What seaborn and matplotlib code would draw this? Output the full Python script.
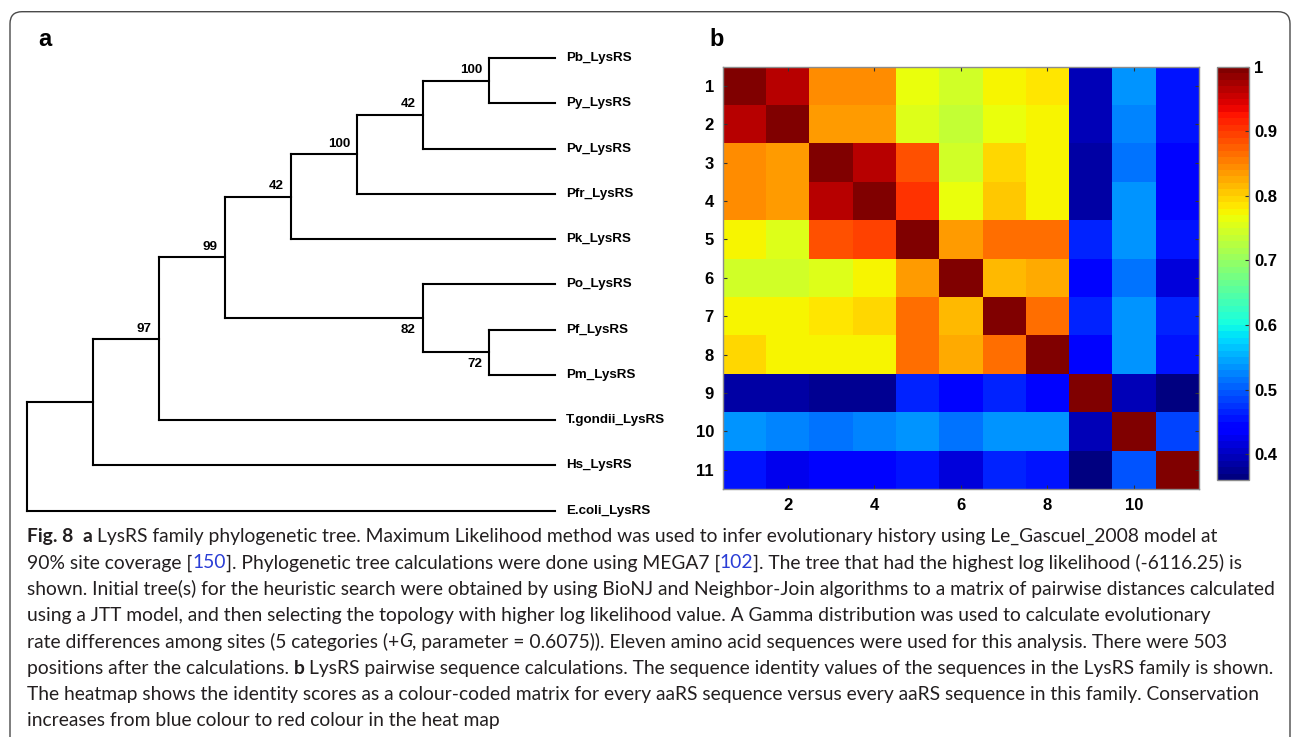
import matplotlib
matplotlib.use("Agg")
import numpy as np
import pandas as pd
import matplotlib.pyplot as plt
import seaborn as sns
from matplotlib import font_manager
from matplotlib.patches import FancyBboxPatch
from matplotlib.transforms import IdentityTransform

# ---------------- data ----------------
# tree topology: (bootstrap, [children]); leaves are strings
tree = ("", [
    ("", [
        ("97", [
            ("99", [
                ("42", [
                    ("100", [
                        ("42", [
                            ("100", ["Pb_LysRS", "Py_LysRS"]),
                            "Pv_LysRS"]),
                        "Pfr_LysRS"]),
                    "Pk_LysRS"]),
                ("82", ["Po_LysRS", ("72", ["Pf_LysRS", "Pm_LysRS"])]),
            ]),
            "T.gondii_LysRS"]),
        "Hs_LysRS"]),
    "E.coli_LysRS"])

# pairwise sequence identity (rows/cols 1..11)
identity = [
    [1.000, 0.965, 0.847, 0.847, 0.768, 0.745, 0.776, 0.787, 0.395, 0.530, 0.450],
    [0.965, 1.000, 0.834, 0.834, 0.757, 0.730, 0.765, 0.776, 0.395, 0.520, 0.450],
    [0.845, 0.834, 1.000, 0.962, 0.888, 0.745, 0.790, 0.776, 0.380, 0.510, 0.440],
    [0.845, 0.834, 0.962, 1.000, 0.900, 0.765, 0.800, 0.776, 0.380, 0.530, 0.440],
    [0.770, 0.750, 0.888, 0.895, 1.000, 0.834, 0.866, 0.866, 0.470, 0.530, 0.455],
    [0.740, 0.740, 0.757, 0.770, 0.834, 1.000, 0.815, 0.830, 0.440, 0.515, 0.415],
    [0.776, 0.770, 0.787, 0.795, 0.866, 0.815, 1.000, 0.866, 0.470, 0.535, 0.470],
    [0.790, 0.776, 0.776, 0.776, 0.866, 0.830, 0.866, 1.000, 0.440, 0.535, 0.450],
    [0.380, 0.380, 0.375, 0.375, 0.470, 0.440, 0.460, 0.440, 1.000, 0.395, 0.365],
    [0.530, 0.520, 0.510, 0.525, 0.530, 0.510, 0.535, 0.535, 0.395, 1.000, 0.480],
    [0.450, 0.425, 0.445, 0.445, 0.450, 0.415, 0.470, 0.455, 0.365, 0.490, 1.000],
]
seq_ids = list(range(1, 12))
x_tick_labels = [2, 4, 6, 8, 10]
cbar_ticks = [0.4, 0.5, 0.6, 0.7, 0.8, 0.9, 1.0]
cbar_labels = ["0.4", "0.5", "0.6", "0.7", "0.8", "0.9", "1"]

caption = [
    [("Fig. 8", "b"), ("  a", "b"), (" LysRS family phylogenetic tree. Maximum Likelihood method was used to infer evolutionary history using Le_Gascuel_2008 model at", "r")],
    [("90% site coverage [", "r"), ("150", "l"), ("]. Phylogenetic tree calculations were done using MEGA7 [", "r"), ("102", "l"), ("]. The tree that had the highest log likelihood (-6116.25) is", "r")],
    [("shown. Initial tree(s) for the heuristic search were obtained by using BioNJ and Neighbor-Join algorithms to a matrix of pairwise distances calculated", "r")],
    [("using a JTT model, and then selecting the topology with higher log likelihood value. A Gamma distribution was used to calculate evolutionary", "r")],
    [("rate differences among sites (5 categories (+", "r"), ("G", "i"), (", parameter = 0.6075)). Eleven amino acid sequences were used for this analysis. There were 503", "r")],
    [("positions after the calculations.", "r"), (" b", "b"), (" LysRS pairwise sequence calculations. The sequence identity values of the sequences in the LysRS family is shown.", "r")],
    [("The heatmap shows the identity scores as a colour-coded matrix for every aaRS sequence versus every aaRS sequence in this family. Conservation", "r")],
    [("increases from blue colour to red colour in the heat map", "r")],
]

# ---------------- fonts ----------------
names = {f.name for f in font_manager.fontManager.ttflist}
narrow = "Liberation Sans Narrow" in names
tree_font = "Liberation Sans Narrow" if narrow else "Liberation Sans"
tree_size = 11 if narrow else 9.6
cap_font = "Lato" if "Lato" in names else "Open Sans"
num_font = "Liberation Sans"

W, H = 1293, 737
fig = plt.figure(figsize=(W / 100, H / 100), dpi=100)


def box(x0, y0, x1, y1):
    return [x0 / W, 1 - y1 / H, (x1 - x0) / W, (y1 - y0) / H]


# outer rounded frame
frame = FancyBboxPatch((10, -30), 1280, H - 11.7 + 30, boxstyle="round,pad=0,rounding_size=12",
                       transform=IdentityTransform(), fill=False, ec="#4a4a4a", lw=1.0)
fig.add_artist(frame)

# ---------------- tree (panel a) ----------------
def node_height(node):
    if isinstance(node, str):
        return 0
    return 1 + max(node_height(c) for c in node[1])


def leaves_of(node):
    if isinstance(node, str):
        return [node]
    out = []
    for c in node[1]:
        out += leaves_of(c)
    return out


total = node_height(tree)
leaf_order = leaves_of(tree)
leaf_y = {name: i for i, name in enumerate(leaf_order)}

ax_t = fig.add_axes(box(26.7, 58, 555, 510.7))
ax_t.set_xlim(0, total)
ax_t.set_ylim(len(leaf_order) - 1, 0)
ax_t.axis("off")

line_kw = dict(color="black", lw=1.5, solid_capstyle="projecting", clip_on=False)


def draw(node, parent_x=None, upper=True):
    if isinstance(node, str):
        x, y = total, leaf_y[node]
        ax_t.plot([parent_x, x], [y, y], **line_kw)
        ax_t.annotate(node, (x, y), xytext=(8, 0), textcoords="offset points",
                      ha="left", va="center", fontsize=tree_size, fontweight="bold",
                      family=tree_font, annotation_clip=False)
        return y
    label, children = node
    x = total - node_height(node)
    ys = [draw(c, x, i == 0) for i, c in enumerate(children)]
    y = (min(ys) + max(ys)) / 2
    ax_t.plot([x, x], [min(ys), max(ys)], **line_kw)
    if parent_x is not None:
        ax_t.plot([parent_x, x], [y, y], **line_kw)
    if label:
        off = (-5, 3) if upper else (-5, -4)
        ax_t.annotate(label, (x, y), xytext=off, textcoords="offset points",
                      ha="right", va="bottom" if upper else "top",
                      fontsize=tree_size, fontweight="bold", family=tree_font,
                      annotation_clip=False)
    return y


draw(tree)

# ---------------- heatmap (panel b) ----------------
df = pd.DataFrame(identity, index=seq_ids, columns=seq_ids)
ax_h = fig.add_axes(box(722.7, 66.7, 1199, 489))
ax_c = fig.add_axes(box(1216.7, 66.7, 1249.3, 480))
sns.heatmap(df, ax=ax_h, cbar_ax=ax_c, cmap=plt.get_cmap("jet", 64), vmin=0.36, vmax=1.0,
            xticklabels=False, yticklabels=False)

ax_h.set_xticks([c - 0.5 for c in x_tick_labels])
ax_h.set_xticklabels([str(c) for c in x_tick_labels], family=num_font, fontweight="bold", fontsize=12)
ax_h.set_yticks([r - 0.5 for r in seq_ids])
ax_h.set_yticklabels([str(r) for r in seq_ids], family=num_font, fontweight="bold", fontsize=12, rotation=0)
ax_h.tick_params(direction="in", length=3, width=0.8, color="#333333", top=True, right=True,
                 labeltop=False, labelright=False, pad=6.3)
for s in ax_h.spines.values():
    s.set_visible(True)
    s.set_color("#8c8c8c")
    s.set_linewidth(1.0)

cbar = ax_h.collections[0].colorbar
cbar.set_ticks(cbar_ticks)
cbar.set_ticklabels(cbar_labels)
cbar.outline.set_edgecolor("#8c8c8c")
cbar.outline.set_linewidth(1.0)
ax_c.tick_params(direction="in", length=3, width=0.8, color="#333333", pad=3.5)
for t in ax_c.get_yticklabels():
    t.set_family(num_font)
    t.set_fontweight("bold")
    t.set_fontsize(12)

# panel letters
fig.text(38 / W, 1 - 40 / H, "a", fontsize=17, fontweight="bold", family=num_font, va="center")
fig.text(709 / W, 1 - 40 / H, "b", fontsize=17, fontweight="bold", family=num_font, va="center")

# ---------------- caption ----------------
renderer = fig.canvas.get_renderer()
styles = {
    "r": dict(color="#231f20"),
    "b": dict(color="#231f20", fontweight="bold"),
    "i": dict(color="#231f20", style="italic"),
    "l": dict(color="#2b3ed6"),
}


def text_width(s, size, **kw):
    t = fig.text(0, 0, s, fontsize=size, family=cap_font, **kw)
    w = t.get_window_extent(renderer).width
    t.remove()
    return w


base = 13
w3 = text_width(caption[2][0][0], base)
cap_size = base * 1250 / w3
space_w = text_width("a a", cap_size) - text_width("aa", cap_size)

y0, dy, x0 = 536.7, 26.3, 26.7
for i, parts in enumerate(caption):
    y = y0 + i * dy
    x = x0
    for txt, sty in parts:
        lead = len(txt) - len(txt.lstrip(" "))
        x += lead * space_w
        body = txt.strip(" ")
        t = fig.text(x / W, 1 - y / H, body, fontsize=cap_size, family=cap_font,
                     va="center", ha="left", **styles[sty])
        x += t.get_window_extent(renderer).width

fig.savefig("out.png", dpi=100)
